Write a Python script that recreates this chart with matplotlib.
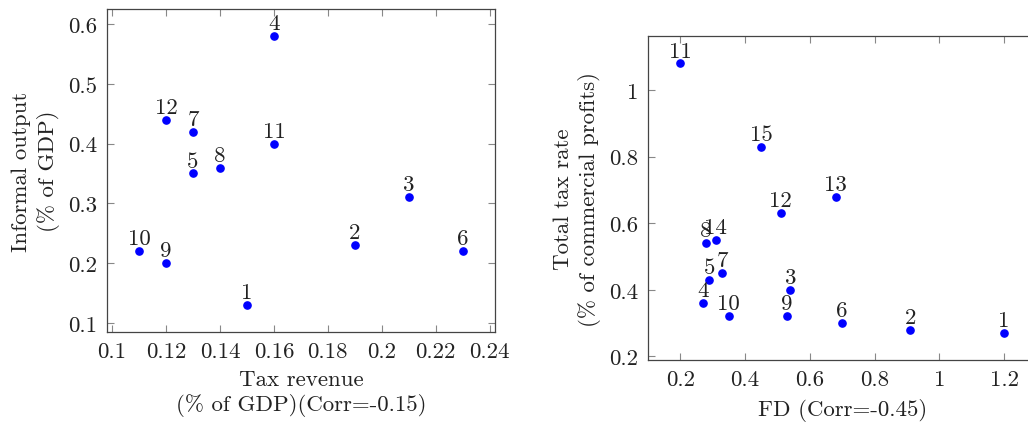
import matplotlib
matplotlib.use("Agg")
import matplotlib.pyplot as plt
from matplotlib.ticker import FixedLocator, FuncFormatter

plt.rcParams['font.family'] = ['cmr10', 'DejaVu Serif']
plt.rcParams['axes.unicode_minus'] = False
plt.rcParams['font.size'] = 16.5

# left panel: tax revenue vs informal output
tax_ids = [1, 2, 3, 4, 5, 6, 7, 8, 9, 10, 11, 12]
tax_revenue = [0.15, 0.19, 0.21, 0.16, 0.13, 0.23, 0.13, 0.14, 0.12, 0.11, 0.16, 0.12]
informal_output = [0.13, 0.23, 0.31, 0.58, 0.35, 0.22, 0.42, 0.36, 0.20, 0.22, 0.40, 0.44]
left_xticks = [0.1, 0.12, 0.14, 0.16, 0.18, 0.2, 0.22, 0.24]
left_yticks = [0.1, 0.2, 0.3, 0.4, 0.5, 0.6]

# right panel: FD vs total tax rate
fd_ids = [1, 2, 3, 4, 5, 6, 7, 8, 9, 10, 11, 12, 13, 14, 15]
fd = [1.2, 0.91, 0.54, 0.27, 0.29, 0.70, 0.33, 0.28, 0.53, 0.35, 0.2, 0.51, 0.68, 0.31, 0.45]
total_tax = [0.27, 0.28, 0.40, 0.36, 0.43, 0.30, 0.45, 0.54, 0.32, 0.32, 1.08, 0.63, 0.68, 0.55, 0.83]
right_xticks = [0.2, 0.4, 0.6, 0.8, 1.0, 1.2]
right_yticks = [0.2, 0.4, 0.6, 0.8, 1.0]


def fmt(v, pos=None):
    return f"{v:g}"


def style_axes(ax, xticks, yticks):
    ax.xaxis.set_major_locator(FixedLocator(xticks))
    ax.yaxis.set_major_locator(FixedLocator(yticks))
    ax.xaxis.set_major_formatter(FuncFormatter(fmt))
    ax.yaxis.set_major_formatter(FuncFormatter(fmt))
    ax.tick_params(direction='in', length=5, width=0.8, color='#888888',
                   top=True, right=True, pad=7, labelcolor='#222222')
    for s in ax.spines.values():
        s.set_color('#444444')
        s.set_linewidth(0.9)


def scatter_labels(ax, xs, ys, ids):
    ax.plot(xs, ys, 'o', color='#0000ff', markersize=5.2, linestyle='none')
    for x, y, n in zip(xs, ys, ids):
        ax.annotate(str(n), (x, y), xytext=(0, 5), textcoords='offset points',
                    ha='center', va='baseline', color='#222222')


fig = plt.figure(figsize=(10.28, 4.27), dpi=100)

ax1 = fig.add_axes([0.1038, 0.2201, 0.3777, 0.7565])
scatter_labels(ax1, tax_revenue, informal_output, tax_ids)
ax1.set_xlim(0.098, 0.242)
ax1.set_ylim(0.085, 0.625)
style_axes(ax1, left_xticks, left_yticks)
ax1.set_xlabel("Tax revenue\n(% of GDP)(Corr=-0.15)", color='#222222',
               labelpad=6, linespacing=1.25)
ax1.set_ylabel("Informal output\n(% of GDP)", color='#222222',
               labelpad=6, linespacing=1.3)

ax2 = fig.add_axes([0.6302, 0.1546, 0.378, 0.7576])
scatter_labels(ax2, fd, total_tax, fd_ids)
ax2.set_xlim(0.1, 1.3)
ax2.set_ylim(0.189, 1.161)
style_axes(ax2, right_xticks, right_yticks)
ax2.set_xlabel("FD (Corr=-0.45)", color='#222222', labelpad=6)
ax2.set_ylabel("Total tax rate\n(% of commercial profits)", color='#222222',
               labelpad=6, linespacing=1.25)

fig.savefig("out.png", dpi=100)
